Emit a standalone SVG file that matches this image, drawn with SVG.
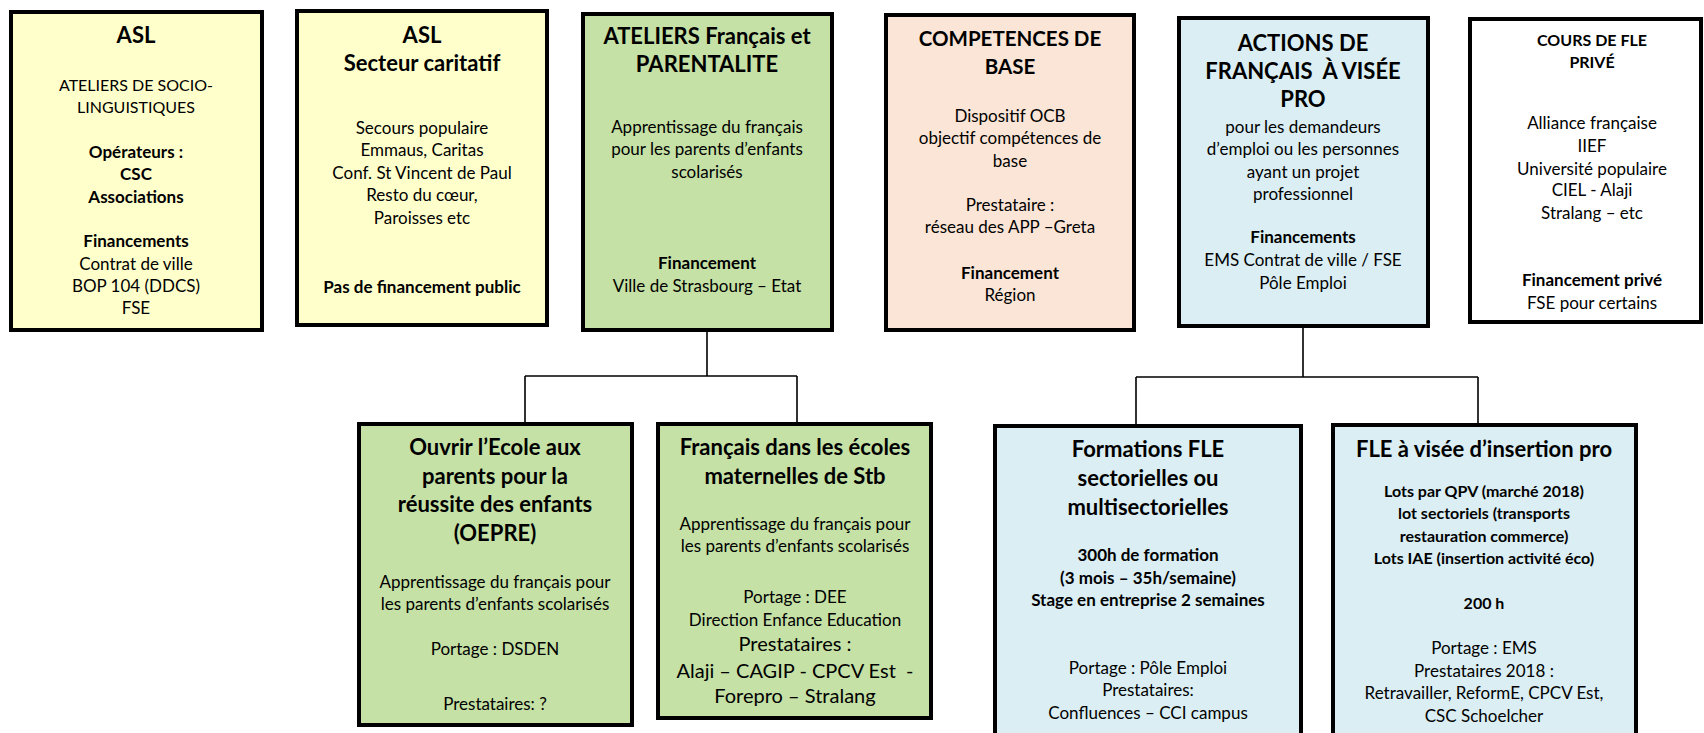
<svg xmlns="http://www.w3.org/2000/svg" width="1704" height="733" viewBox="0 0 1704 733">
<style>
.box{stroke:#000;stroke-width:4}
.y{fill:#FFFFCC}.g{fill:#C5E1A5}.p{fill:#FBE5D6}.b{fill:#DAEEF3}.w{fill:#FFFFFF}
text{font-family:Lato,"Open Sans","Liberation Sans",sans-serif;fill:#000;text-anchor:middle}
.t{font-size:22px;font-weight:bold}
.tc{font-size:20.5px;font-weight:bold}
.t2{font-size:16px;font-weight:bold}
.n{font-size:17px}
.nc{font-size:16px}
.nb{font-size:17px;font-weight:bold}
.l{font-size:20px}
.c9{font-size:17px;font-weight:bold}
.c{font-size:16px;font-weight:bold}
.conn{stroke:#000;stroke-width:1.6;fill:none}
</style>
<rect width="1704" height="733" fill="#FFFFFF"/>
<g id="connectors">
<path class="conn" d="M707 332V376M525 376H797M525 376V422M797 376V422"/>
<path class="conn" d="M1303 328V377M1136 377H1478M1136 377V424M1478 377V423"/>
</g>
<g id="asl">
<rect class="box y" x="11" y="12" width="251" height="318"/>
<text class="t" x="136" y="43">ASL</text>
<text class="nc" x="136" y="91">ATELIERS DE SOCIO-</text>
<text class="nc" x="136" y="113">LINGUISTIQUES</text>
<text class="nb" x="136" y="158">Opérateurs :</text>
<text class="nb" x="136" y="180">CSC</text>
<text class="nb" x="136" y="203">Associations</text>
<text class="nb" x="136" y="247">Financements</text>
<text class="n" x="136" y="270">Contrat de ville</text>
<text class="n" x="136" y="292">BOP 104 (DDCS)</text>
<text class="n" x="136" y="314">FSE</text>
</g>
<g id="asl-caritatif">
<rect class="box y" x="297" y="11" width="250" height="314"/>
<text class="t" x="422" y="43">ASL</text>
<text class="t" x="422" y="71">Secteur caritatif</text>
<text class="n" x="422" y="134">Secours populaire</text>
<text class="n" x="422" y="156">Emmaus, Caritas</text>
<text class="n" x="422" y="179">Conf. St Vincent de Paul</text>
<text class="n" x="422" y="201">Resto du cœur,</text>
<text class="n" x="422" y="224">Paroisses etc</text>
<text class="nb" x="422" y="293">Pas de financement public</text>
</g>
<g id="ateliers">
<rect class="box g" x="583" y="14" width="249" height="316"/>
<text class="t" x="707" y="44">ATELIERS Français et</text>
<text class="t" x="707" y="72">PARENTALITE</text>
<text class="n" x="707" y="133">Apprentissage du français</text>
<text class="n" x="707" y="155">pour les parents d’enfants</text>
<text class="n" x="707" y="178">scolarisés</text>
<text class="nb" x="707" y="269">Financement</text>
<text class="n" x="707" y="292">Ville de Strasbourg – Etat</text>
</g>
<g id="competences">
<rect class="box p" x="886" y="15" width="248" height="315"/>
<text class="tc" x="1010" y="46">COMPETENCES DE</text>
<text class="tc" x="1010" y="74">BASE</text>
<text class="n" x="1010" y="122">Dispositif OCB</text>
<text class="n" x="1010" y="144">objectif compétences de</text>
<text class="n" x="1010" y="167">base</text>
<text class="n" x="1010" y="211">Prestataire :</text>
<text class="n" x="1010" y="233">réseau des APP –Greta</text>
<text class="nb" x="1010" y="279">Financement</text>
<text class="n" x="1010" y="301">Région</text>
</g>
<g id="actions-pro">
<rect class="box b" x="1179" y="18" width="249" height="308"/>
<text class="t" x="1303" y="51">ACTIONS DE</text>
<text class="t" x="1303" y="79" xml:space="preserve">FRANÇAIS  À VISÉE</text>
<text class="t" x="1303" y="107">PRO</text>
<text class="n" x="1303" y="133">pour les demandeurs</text>
<text class="n" x="1303" y="155">d’emploi ou les personnes</text>
<text class="n" x="1303" y="178">ayant un projet</text>
<text class="n" x="1303" y="200">professionnel</text>
<text class="nb" x="1303" y="243">Financements</text>
<text class="n" x="1303" y="266">EMS Contrat de ville / FSE</text>
<text class="n" x="1303" y="289">Pôle Emploi</text>
</g>
<g id="cours-fle-prive">
<rect class="box w" x="1470" y="19" width="231" height="303"/>
<text class="t2" x="1592" y="46">COURS DE FLE</text>
<text class="t2" x="1592" y="68">PRIVÉ</text>
<text class="n" x="1592" y="129">Alliance française</text>
<text class="n" x="1592" y="152">IIEF</text>
<text class="n" x="1592" y="175">Université populaire</text>
<text class="n" x="1592" y="196">CIEL - Alaji</text>
<text class="n" x="1592" y="219">Stralang – etc</text>
<text class="nb" x="1592" y="286">Financement privé</text>
<text class="n" x="1592" y="309">FSE pour certains</text>
</g>
<g id="oepre">
<rect class="box g" x="359" y="424" width="273" height="301"/>
<text class="t" x="495" y="455">Ouvrir l’Ecole aux</text>
<text class="t" x="495" y="484">parents pour la</text>
<text class="t" x="495" y="512">réussite des enfants</text>
<text class="t" x="495" y="541">(OEPRE)</text>
<text class="n" x="495" y="588">Apprentissage du français pour</text>
<text class="n" x="495" y="610">les parents d’enfants scolarisés</text>
<text class="n" x="495" y="655">Portage : DSDEN</text>
<text class="n" x="495" y="710">Prestataires: ?</text>
</g>
<g id="ecoles-maternelles">
<rect class="box g" x="658" y="424" width="273" height="294"/>
<text class="t" x="795" y="455">Français dans les écoles</text>
<text class="t" x="795" y="484">maternelles de Stb</text>
<text class="n" x="795" y="530">Apprentissage du français pour</text>
<text class="n" x="795" y="552">les parents d’enfants scolarisés</text>
<text class="n" x="795" y="603">Portage : DEE</text>
<text class="n" x="795" y="626">Direction Enfance Education</text>
<text class="l" x="795" y="651">Prestataires :</text>
<text class="l" x="795" y="678" xml:space="preserve">Alaji – CAGIP - CPCV Est  -</text>
<text class="l" x="795" y="703">Forepro – Stralang</text>
</g>
<g id="formations-fle">
<rect class="box b" x="995" y="426" width="306" height="320"/>
<text class="t" x="1148" y="457">Formations FLE</text>
<text class="t" x="1148" y="486">sectorielles ou</text>
<text class="t" x="1148" y="515">multisectorielles</text>
<text class="c9" x="1148" y="561">300h de formation</text>
<text class="c9" x="1148" y="584">(3 mois – 35h/semaine)</text>
<text class="c9" x="1148" y="606">Stage en entreprise 2 semaines</text>
<text class="n" x="1148" y="674">Portage : Pôle Emploi</text>
<text class="n" x="1148" y="696">Prestataires:</text>
<text class="n" x="1148" y="719">Confluences – CCI campus</text>
</g>
<g id="fle-insertion">
<rect class="box b" x="1333" y="425" width="303" height="320"/>
<text class="t" x="1484" y="457">FLE à visée d’insertion pro</text>
<text class="c" x="1484" y="497">Lots par QPV (marché 2018)</text>
<text class="c" x="1484" y="519">lot sectoriels (transports</text>
<text class="c" x="1484" y="542">restauration commerce)</text>
<text class="c" x="1484" y="564">Lots IAE (insertion activité éco)</text>
<text class="c" x="1484" y="609">200 h</text>
<text class="n" x="1484" y="654">Portage : EMS</text>
<text class="n" x="1484" y="677">Prestataires 2018 :</text>
<text class="n" x="1484" y="699">Retravailler, ReformE, CPCV Est,</text>
<text class="n" x="1484" y="722">CSC Schoelcher</text>
</g>
</svg>
